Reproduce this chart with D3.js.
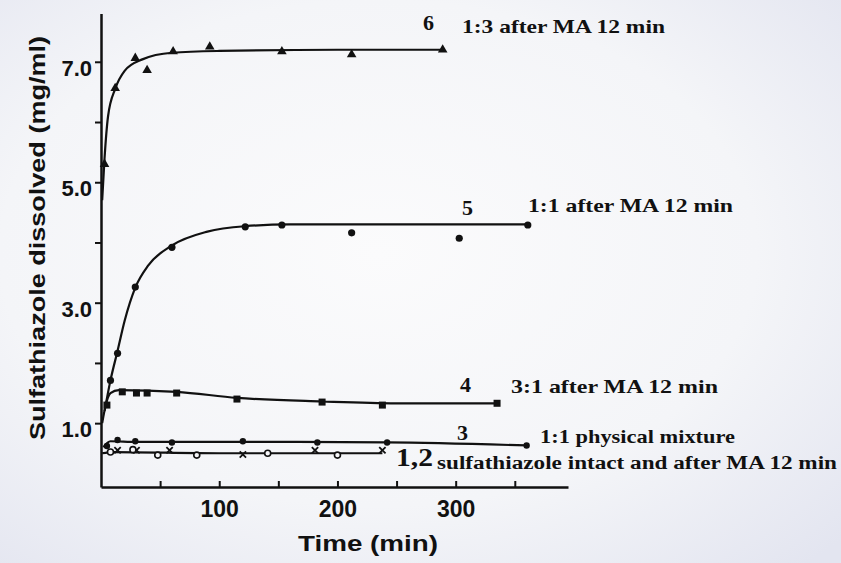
<!DOCTYPE html>
<html>
<head>
<meta charset="utf-8">
<script src="https://cdn.jsdelivr.net/npm/d3@7"></script>
<style>
  body { margin: 0; background: #f6f6f9; }
  svg { display: block; }
</style>
</head>
<body>
<div id="chart"></div>
<script>
// data (time in min, mg/ml)
const xTicks = [50, 100, 150, 200, 250, 300, 350];
const xTickLabels = [100, 200, 300];
const yTicks = [1, 2, 3, 4, 5, 6, 7];
const yTickLabels = [1, 3, 5, 7];

// curve 6: 1:3 after MA 12 min (triangles)
const s6Time = [3, 12, 29, 39, 61, 92, 153, 212, 289];
const s6Val = [5.3, 6.56, 7.06, 6.86, 7.17, 7.25, 7.17, 7.12, 7.2];
const s6FitTime = [1, 3, 6, 12, 20, 35, 60, 100, 200, 289];
const s6FitVal = [4.7, 5.4, 6.1, 6.55, 6.85, 7.04, 7.15, 7.18, 7.2, 7.2];

// curve 5: 1:1 after MA 12 min (dots)
const s5Time = [8, 14, 29, 60, 122, 153, 212, 303, 361];
const s5Val = [1.71, 2.16, 3.26, 3.92, 4.26, 4.29, 4.16, 4.07, 4.29];
const s5FitTime = [3, 8, 14, 20, 29, 40, 60, 90, 122, 160, 361];
const s5FitVal = [1.2, 1.71, 2.2, 2.7, 3.25, 3.62, 3.95, 4.18, 4.27, 4.3, 4.3];

// curve 4: 3:1 after MA 12 min (squares)
const s4Time = [5, 18, 30, 39, 64, 115, 187, 238, 335];
const s4Val = [1.3, 1.52, 1.5, 1.5, 1.5, 1.4, 1.35, 1.3, 1.33];
const s4FitTime = [1, 4, 8, 15, 64, 115, 187, 250, 335];
const s4FitVal = [1.0, 1.3, 1.5, 1.55, 1.52, 1.42, 1.36, 1.33, 1.33];

// curve 3: 1:1 physical mixture (dots)
const s3Time = [5, 14, 29, 60, 120, 183, 242, 360];
const s3Val = [0.62, 0.72, 0.7, 0.68, 0.7, 0.68, 0.68, 0.63];
const s3FitTime = [2, 8, 30, 120, 242, 360];
const s3FitVal = [0.6, 0.7, 0.69, 0.69, 0.68, 0.63];

// curves 1,2: sulfathiazole intact (x) and after MA 12 min (o)
const s1Time = [14, 30, 58, 120, 181, 238];
const s1Val = [0.55, 0.55, 0.55, 0.48, 0.55, 0.55];
const s2Time = [8, 27, 48, 81, 141, 200];
const s2Val = [0.52, 0.56, 0.47, 0.47, 0.5, 0.47];
const s12FitTime = [1, 10, 100, 238];
const s12FitVal = [0.5, 0.52, 0.5, 0.5];

const W = 841, H = 563;

const svg = d3.select("#chart").append("svg")
    .attr("width", W)
    .attr("height", H);

// faint scan background
const defs = svg.append("defs");
const grad = defs.append("radialGradient").attr("id", "bg")
    .attr("cx", "45%").attr("cy", "45%").attr("r", "75%");
grad.append("stop").attr("offset", "0%").attr("stop-color", "#fbfbfc");
grad.append("stop").attr("offset", "60%").attr("stop-color", "#f4f5f8");
grad.append("stop").attr("offset", "100%").attr("stop-color", "#e3e5f0");
svg.append("rect").attr("width", W).attr("height", H).attr("fill", "url(#bg)");

const xScale = d3.scaleLinear().domain([0, 395]).range([101, 568]);
const yScale = d3.scaleLinear().domain([-0.06, 7.8]).range([487, 13.6]);

// axes
const xAxis = svg.append("g")
    .attr("transform", "translate(0," + yScale(-0.06) + ")")
    .call(d3.axisBottom(xScale).tickValues(xTicks).tickSize(-6).tickSizeOuter(0)
      .tickFormat(d => xTickLabels.includes(d) ? d : ""));
xAxis.select(".domain").attr("stroke", "#111").attr("stroke-width", 2.5);
xAxis.selectAll(".tick line").attr("stroke", "#111").attr("stroke-width", 2);
xAxis.selectAll(".tick text")
    .attr("y", 14)
    .attr("fill", "#111")
    .style("font-family", "Liberation Sans, Arial, sans-serif")
    .style("font-size", "23px")
    .style("font-weight", "bold");

const yAxis = svg.append("g")
    .attr("transform", "translate(" + xScale(0) + ",0)")
    .call(d3.axisLeft(yScale).tickValues(yTicks).tickSize(6).tickSizeOuter(0)
      .tickFormat(d => yTickLabels.includes(d) ? d3.format(".1f")(d) : ""));
yAxis.select(".domain").attr("stroke", "#111").attr("stroke-width", 2.5);
yAxis.selectAll(".tick line").attr("stroke", "#111").attr("stroke-width", 2);
yAxis.selectAll(".tick text")
    .attr("x", -9)
    .attr("dy", "0.62em")
    .attr("fill", "#111")
    .style("font-family", "Liberation Sans, Arial, sans-serif")
    .style("font-size", "22px")
    .style("font-weight", "bold");

// axis titles
svg.append("text")
    .attr("x", 368).attr("y", 551)
    .attr("text-anchor", "middle")
    .attr("textLength", 140).attr("lengthAdjust", "spacingAndGlyphs")
    .style("font-family", "Liberation Sans, Arial, sans-serif")
    .style("font-size", "22px").style("font-weight", "bold").attr("fill", "#111")
    .text("Time (min)");

svg.append("text")
    .attr("transform", "translate(45,238) rotate(-90)")
    .attr("text-anchor", "middle")
    .attr("textLength", 404).attr("lengthAdjust", "spacingAndGlyphs")
    .style("font-family", "Liberation Sans, Arial, sans-serif")
    .style("font-size", "22px").style("font-weight", "bold").attr("fill", "#111")
    .text("Sulfathiazole dissolved (mg/ml)");

// fitted curves
const line = d3.line()
    .x(d => xScale(d[0]))
    .y(d => yScale(d[1]))
    .curve(d3.curveMonotoneX);

const fits = [
  [s6FitTime, s6FitVal],
  [s5FitTime, s5FitVal],
  [s4FitTime, s4FitVal],
  [s3FitTime, s3FitVal],
  [s12FitTime, s12FitVal]
];
fits.forEach(f => {
  svg.append("path")
    .datum(d3.zip(f[0], f[1]))
    .attr("d", line)
    .attr("fill", "none")
    .attr("stroke", "#111")
    .attr("stroke-width", 2.2);
});

// markers
const tri = d3.symbol().type(d3.symbolTriangle).size(40);
svg.selectAll(".s6")
  .data(d3.zip(s6Time, s6Val))
  .enter().append("path")
    .attr("class", "s6")
    .attr("transform", d => "translate(" + xScale(d[0]) + "," + yScale(d[1]) + ")")
    .attr("d", tri)
    .attr("fill", "#111");

svg.selectAll(".s5")
  .data(d3.zip(s5Time, s5Val))
  .enter().append("circle")
    .attr("class", "s5")
    .attr("cx", d => xScale(d[0]))
    .attr("cy", d => yScale(d[1]))
    .attr("r", 3.6)
    .attr("fill", "#111");

svg.selectAll(".s4")
  .data(d3.zip(s4Time, s4Val))
  .enter().append("rect")
    .attr("class", "s4")
    .attr("x", d => xScale(d[0]) - 3.5)
    .attr("y", d => yScale(d[1]) - 3.5)
    .attr("width", 7).attr("height", 7)
    .attr("fill", "#111");

svg.selectAll(".s3")
  .data(d3.zip(s3Time, s3Val))
  .enter().append("circle")
    .attr("class", "s3")
    .attr("cx", d => xScale(d[0]))
    .attr("cy", d => yScale(d[1]))
    .attr("r", 3.2)
    .attr("fill", "#111");

const cross = d3.symbol().type(d3.symbolX).size(28);
svg.selectAll(".s1")
  .data(d3.zip(s1Time, s1Val))
  .enter().append("path")
    .attr("class", "s1")
    .attr("transform", d => "translate(" + xScale(d[0]) + "," + yScale(d[1]) + ")")
    .attr("d", cross)
    .attr("fill", "none")
    .attr("stroke", "#111")
    .attr("stroke-width", 1.8);

svg.selectAll(".s2")
  .data(d3.zip(s2Time, s2Val))
  .enter().append("circle")
    .attr("class", "s2")
    .attr("cx", d => xScale(d[0]))
    .attr("cy", d => yScale(d[1]))
    .attr("r", 3)
    .attr("fill", "#f6f6f9")
    .attr("stroke", "#111")
    .attr("stroke-width", 1.6);

// curve labels
const serif = "Liberation Serif, Times New Roman, serif";
function label(txt, x, y, size, len) {
  const t = svg.append("text")
    .attr("x", x).attr("y", y)
    .attr("fill", "#111")
    .style("font-family", serif)
    .style("font-size", size + "px")
    .style("font-weight", "bold")
    .text(txt);
  if (len) t.attr("textLength", len).attr("lengthAdjust", "spacingAndGlyphs");
}
label("6", 423, 30, 22);
label("1:3 after MA 12 min", 462, 33, 19, 203);
label("5", 462, 215, 22);
label("1:1 after MA 12 min", 528, 212, 19, 205);
label("4", 460, 392, 22);
label("3:1 after MA 12 min", 511, 393, 19, 207);
label("3", 457, 440, 22);
label("1:1   physical mixture", 540, 443, 19, 195);
label("1,2", 396, 466, 25, 37);
label("sulfathiazole intact and after MA 12 min", 437, 469, 18, 400);
</script>
</body>
</html>
